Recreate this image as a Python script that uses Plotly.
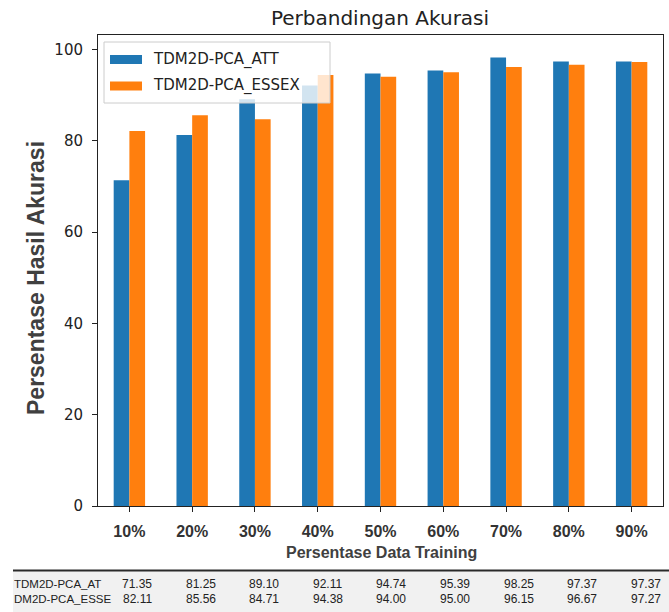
import plotly.graph_objects as go

categories = ["10%", "20%", "30%", "40%", "50%", "60%", "70%", "80%", "90%"]
att = [71.35, 81.25, 89.10, 92.11, 94.74, 95.39, 98.25, 97.37, 97.37]
essex = [82.11, 85.56, 84.71, 94.38, 94.00, 95.00, 96.15, 96.67, 97.27]
series_names = ["TDM2D-PCA_ATT", "TDM2D-PCA_ESSEX"]
table_labels = ["TDM2D-PCA_AT", "DM2D-PCA_ESSE"]
colors = ["#1f77b4", "#ff7f0e"]

W, H = 669, 612
L, R, T, B = 98, 663, 35, 506


def px(x):
    return (x - L) / (R - L)


def py(y):
    return (B - y) / (B - T)


fig = go.Figure()
for name, vals, c in zip(series_names, [att, essex], colors):
    fig.add_trace(go.Bar(x=categories, y=vals, name=name, marker_color=c,
                         marker_line_width=0, showlegend=False))

ymax = max(max(att), max(essex)) * 1.05

shapes = []
annotations = []

# custom legend
shapes.append(dict(type="rect", xref="paper", yref="paper", layer="above",
                   x0=px(104), x1=px(330), y0=py(103), y1=py(42),
                   fillcolor="rgba(255,255,255,0.8)", line=dict(color="#cccccc", width=1)))
for i, (name, c) in enumerate(zip(series_names, colors)):
    yc = 59.5 + i * 26.5
    shapes.append(dict(type="rect", xref="paper", yref="paper", layer="above",
                       x0=px(110), x1=px(142), y0=py(yc + 4.5), y1=py(yc - 4.5),
                       fillcolor=c, line=dict(width=0)))
    annotations.append(dict(xref="paper", yref="paper", x=px(151), y=py(yc),
                            xanchor="left", yanchor="middle", showarrow=False,
                            text=name, font=dict(family="DejaVu Sans", size=15, color="#222")))

# axis titles
annotations.append(dict(xref="paper", yref="paper", x=px(381), y=py(552),
                        xanchor="center", yanchor="middle", showarrow=False,
                        text="<b>Persentase Data Training</b>",
                        font=dict(family="Liberation Sans, Arial", size=16, color="#404040")))
annotations.append(dict(xref="paper", yref="paper", x=px(36), y=py(278),
                        xanchor="center", yanchor="middle", showarrow=False, textangle=-90,
                        text="<b>Persentase Hasil Akurasi</b>",
                        font=dict(family="Liberation Sans, Arial", size=23, color="#404040")))

# table below
shapes.append(dict(type="rect", xref="paper", yref="paper", layer="above",
                   x0=px(13), x1=px(669), y0=py(612), y1=py(570),
                   fillcolor="#f1f1f1", line=dict(width=0)))
shapes.append(dict(type="line", xref="paper", yref="paper", layer="above",
                   x0=px(13), x1=px(669), y0=py(570.5), y1=py(570.5),
                   line=dict(color="#2a2a2a", width=2)))
for r, (lab, vals) in enumerate(zip(table_labels, [att, essex])):
    yc = 584 + r * 14.5
    annotations.append(dict(xref="paper", yref="paper", x=px(12), y=py(yc),
                            xanchor="left", yanchor="middle", showarrow=False,
                            text=lab, font=dict(family="Liberation Sans", size=11.5, color="#222")))
    for j, v in enumerate(vals):
        annotations.append(dict(xref="paper", yref="paper", x=px(137 + 63.6 * j), y=py(yc),
                                xanchor="center", yanchor="middle", showarrow=False,
                                text=f"{v:.2f}",
                                font=dict(family="Liberation Sans", size=12, color="#222")))

fig.update_layout(
    width=W, height=H,
    margin=dict(l=L, r=W - R, t=T, b=H - B),
    paper_bgcolor="white", plot_bgcolor="white",
    barmode="group", bargap=0.5, bargroupgap=0,
    title=dict(text="Perbandingan Akurasi", x=px(380), xref="paper", xanchor="center",
               y=1 - 18 / H, yanchor="middle",
               font=dict(family="DejaVu Sans", size=20, color="#222")),
    shapes=shapes, annotations=annotations,
    xaxis=dict(range=[-0.5, len(categories) - 0.5], showline=True, mirror=True,
               linecolor="#222", linewidth=1, ticks="outside", ticklen=5, tickcolor="#222",
               showgrid=False, zeroline=False, ticklabelstandoff=6,
               tickfont=dict(family="Liberation Sans, Arial", size=16, color="#333"),
               tickprefix="<b>", ticksuffix="</b>"),
    yaxis=dict(range=[0, ymax], tickvals=[0, 20, 40, 60, 80, 100], showline=True, mirror=True,
               linecolor="#222", linewidth=1, ticks="outside", ticklen=5, tickcolor="#222",
               showgrid=False, zeroline=False, ticklabelstandoff=6,
               tickfont=dict(family="DejaVu Sans", size=15, color="#222")),
)

fig.write_html("out.html", config={"displayModeBar": False},
               post_script="document.body.style.margin='0';document.body.style.overflow='hidden';")
